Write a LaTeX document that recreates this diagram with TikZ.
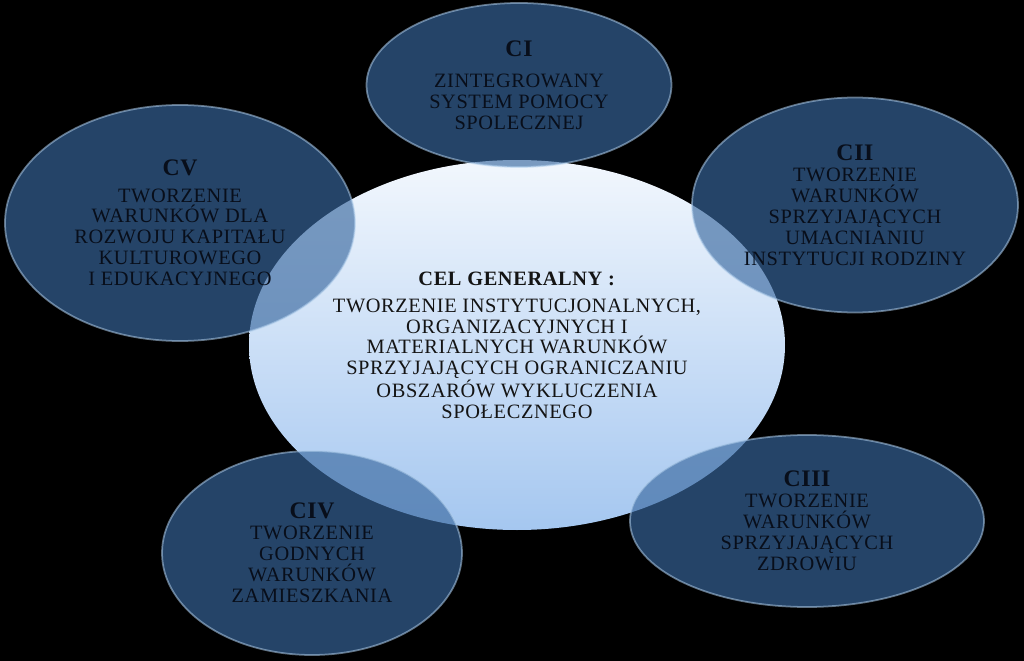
\documentclass[tikz,border=0pt]{standalone}
\usepackage{fontspec}
\setmainfont{Liberation Serif}[LetterSpace=3]
\usepackage{tikz}
\usetikzlibrary{shapes.geometric}
\definecolor{celtop}{RGB}{242,247,253}
\definecolor{celmid}{RGB}{222,234,248}
\definecolor{celbottom}{RGB}{165,199,240}
\definecolor{goalblue}{RGB}{58,105,160}
\definecolor{goalrim}{RGB}{175,205,235}
\definecolor{goaltext}{RGB}{8,14,26}
\newcommand{\goalhead}[1]{{\fontsize{13.5}{14}\selectfont\bfseries #1}}
\tikzstyle{cel} = [ellipse, inner sep=0pt,
minimum width=10.72cm,
minimum height=7.40cm,
align=center,
top color=celtop, middle color=celmid, bottom color=celbottom,
text=black!92,
font=\fontsize{11.6}{11.7}\selectfont]
\tikzstyle{goal} = [ellipse, inner sep=0pt,
align=center,
fill=goalblue, fill opacity=0.65,
draw=goalrim, draw opacity=0.55, line width=1pt,
text=goaltext, text opacity=1,
font=\fontsize{11.6}{11.9}\selectfont]

\begin{document}
\begin{tikzpicture}

\fill [black] (0,0) rectangle (20.48,-13.22);

\node [cel] (cel) at (10.34,-6.90) {\textbf{CEL GENERALNY :}\\[4pt]
TWORZENIE INSTYTUCJONALNYCH,\\ ORGANIZACYJNYCH I\\ MATERIALNYCH WARUNKÓW\\
SPRZYJAJĄCYCH OGRANICZANIU\\ OBSZARÓW WYKLUCZENIA\\ SPOŁECZNEGO};

\node [goal, minimum width=6.10cm, minimum height=3.28cm] (ci) at (10.38,-1.70)
{\goalhead{CI}\\[6pt] ZINTEGROWANY\\ SYSTEM POMOCY\\ SPOLECZNEJ};
\node [goal, minimum width=6.52cm, minimum height=4.30cm] (cii) at (17.10,-4.10)
{\goalhead{CII}\\ TWORZENIE\\ WARUNKÓW\\ SPRZYJAJĄCYCH\\ UMACNIANIU\\ INSTYTUCJI RODZINY};
\node [goal, minimum width=7.08cm, minimum height=3.44cm] (ciii) at (16.14,-10.42)
{\goalhead{CIII}\\ TWORZENIE\\ WARUNKÓW\\ SPRZYJAJĄCYCH\\ ZDROWIU};
\node [goal, minimum width=6.00cm, minimum height=4.08cm] (civ) at (6.24,-11.06)
{\goalhead{CIV}\\ TWORZENIE\\ GODNYCH\\ WARUNKÓW\\ ZAMIESZKANIA};
\node [goal, minimum width=7.00cm, minimum height=4.72cm] (cv) at (3.60,-4.46)
{\goalhead{CV}\\[3pt] TWORZENIE\\ WARUNKÓW DLA\\ ROZWOJU KAPITAŁU\\ KULTUROWEGO\\ I EDUKACYJNEGO};

\end{tikzpicture}
\end{document}
